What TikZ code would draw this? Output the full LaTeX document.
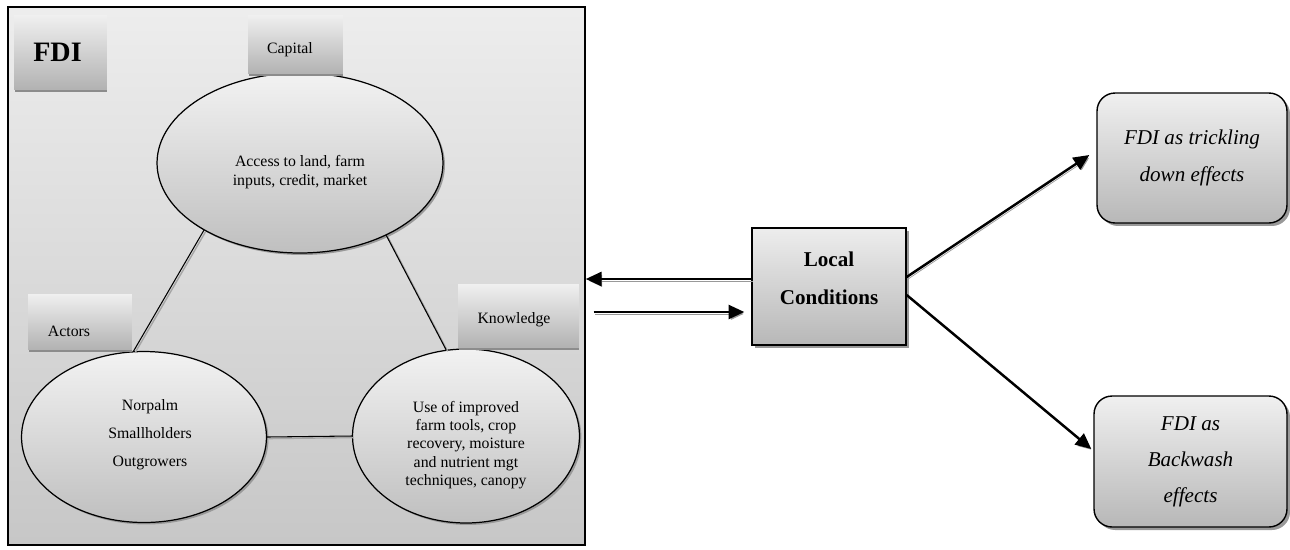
\documentclass[tikz,border=0pt]{standalone}
\usepackage{fontspec}
\setmainfont{Liberation Serif}
\usepackage{tikz}
\usetikzlibrary{arrows.meta}
\usetikzlibrary{shapes}
\usetikzlibrary{shadows}
\tikzset{
  MainBox/.style={
    rectangle, inner sep=0pt,
    draw=black, line width=0.9pt,
    top color=black!7, bottom color=black!22,
  },
  TagBox/.style={
    rectangle, inner sep=0pt,
    top color=black!6, bottom color=black!30,
    drop shadow={shadow xshift=0.01cm, shadow yshift=-0.06cm, fill=black!45, opacity=1},
  },
  TagText/.style={font=\fontsize{9}{10.4}\selectfont},
  Blob/.style={
    ellipse, inner sep=0pt,
    draw=black, line width=0.7pt,
    top color=black!5, bottom color=black!25,
    drop shadow={shadow xshift=0.04cm, shadow yshift=-0.04cm, fill=black!40, opacity=1},
  },
  BlobText/.style={font=\fontsize{9}{10.4}\selectfont, align=center},
  CondBox/.style={
    rectangle, inner sep=0pt,
    draw=black, line width=0.8pt,
    top color=black!7, bottom color=black!28,
    drop shadow={shadow xshift=0.06cm, shadow yshift=-0.06cm, fill=black!40, opacity=1},
  },
  CondText/.style={font=\fontsize{12}{14.5}\bfseries\selectfont, align=center},
  EffectBox/.style={
    rectangle, rounded corners=0.36cm, inner sep=0pt,
    draw=black, line width=0.8pt,
    top color=black!6, bottom color=black!28,
    drop shadow={shadow xshift=0.06cm, shadow yshift=-0.06cm, fill=black!40, opacity=1},
    align=center,
  },
  Link/.style={
    draw=black, line width=0.6pt,
    preaction={draw=black!35, line width=0.8pt, transform canvas={xshift=0.9pt, yshift=-0.9pt}},
  },
  BigArrow/.style={
    -{Triangle[length=9pt,width=8pt]}, line width=1.4pt,
    preaction={draw=black!40, transform canvas={xshift=0.8pt, yshift=-1.1pt}},
  },
}
\begin{document}
\begin{tikzpicture}[x=0.02cm, y=-0.02cm]
\useasboundingbox (0,0) rectangle (1290,549);
% frame of the FDI side
\node[MainBox, minimum width=11.54cm, minimum height=10.76cm] (OUTER) at (296.5,276) {};
% the three fields
\node[Blob, minimum width=5.72cm, minimum height=3.6cm, label={[BlobText, yshift=-0.18cm]center:{Access to land, farm\\inputs, credit, market}}] (ACCESS) at (300,163) {};
\node[Blob, minimum width=4.9cm, minimum height=3.42cm, label={[BlobText, xshift=0.12cm, yshift=0.04cm]center:{Norpalm\\[5.5pt]Smallholders\\[5.5pt]Outgrowers}}] (ACTORS) at (144,437) {};
\node[Blob, minimum width=4.54cm, minimum height=3.48cm, label={[BlobText, yshift=-0.18cm]center:{Use of improved\\farm tools, crop\\recovery, moisture\\and nutrient mgt\\techniques, canopy}}] (USE) at (466,436) {};
\draw[Link] (ACCESS.215) -- (ACTORS.97);
\draw[Link] (ACCESS.-40) -- (USE.103);
\draw[Link] (ACTORS.east) -- (USE.west);
% tags
\node[TagBox, minimum width=1.86cm, minimum height=1.48cm, label={[font=\fontsize{16}{19}\bfseries\selectfont, xshift=-0.06cm]center:FDI}] (FDI) at (60.5,52) {};
\node[TagBox, minimum width=1.9cm, minimum height=1.16cm, label={[TagText, xshift=-0.11cm, yshift=-0.12cm]center:Capital}] (CAP) at (295.5,44) {};
\node[TagBox, minimum width=2.08cm, minimum height=1.1cm, label={[TagText, xshift=-0.22cm, yshift=-0.19cm]center:Actors}] (ACT) at (80,321.5) {};
\node[TagBox, minimum width=2.42cm, minimum height=1.26cm, label={[TagText, xshift=-0.09cm, yshift=-0.09cm]center:Knowledge}] (KNOW) at (518.5,315.5) {};
% local conditions and effects
\node[CondBox, minimum width=3.08cm, minimum height=2.34cm, label={[CondText, yshift=0.17cm]center:{Local\\[7pt]Conditions}}] (LOCAL) at (829,286.5) {};
\node[EffectBox, minimum width=3.8cm, minimum height=2.6cm, font=\fontsize{12}{21}\itshape\selectfont] (TRICKLE) at (1192,158) {FDI as trickling\\down effects};
\node[EffectBox, minimum width=3.86cm, minimum height=2.62cm, font=\fontsize{12}{20.5}\itshape\selectfont] (BACKWASH) at (1190.5,461.5) {FDI as\\Backwash\\effects};
\coordinate (LOUT) at ([yshift=0.15cm]LOCAL.west);
\coordinate (LIN) at ([shift={(-0.14cm,-0.51cm)}]LOCAL.west);
\coordinate (BOUT) at ([xshift=0.16cm]OUTER.east);
\draw[BigArrow] (LOUT) -- (LOUT -| OUTER.east);
\draw[BigArrow] (BOUT |- LIN) -- (LIN);
\draw[BigArrow] ([yshift=0.19cm]LOCAL.east) -- ([shift={(-0.14cm,0.06cm)}]TRICKLE.west);
\draw[BigArrow] ([yshift=-0.17cm]LOCAL.east) -- ([shift={(-0.04cm,0.25cm)}]BACKWASH.west);
\end{tikzpicture}
\end{document}
